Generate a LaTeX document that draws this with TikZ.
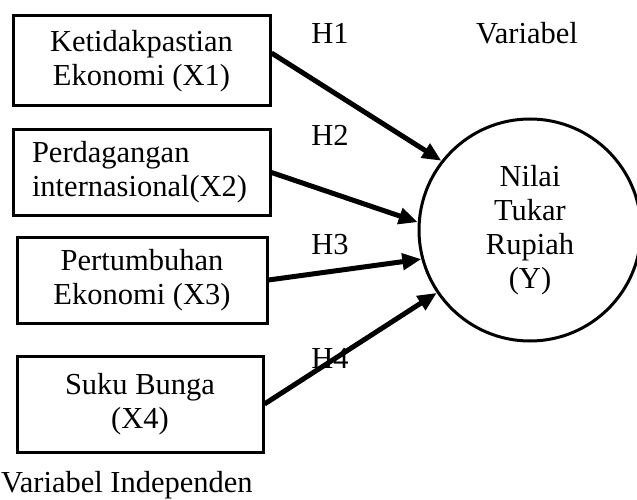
\documentclass[tikz,border=0pt]{standalone}
\usepackage{fontspec}
\setmainfont{Liberation Serif}
\usetikzlibrary{arrows.meta}
\begin{document}
\begin{tikzpicture}[x=1pt,y=-1pt,
    font=\fontsize{30.5}{34}\selectfont,
    kotak/.style={draw,line width=3pt,inner sep=0pt,align=center},
    panah/.style={line width=5pt,-{Triangle[length=19pt,width=16pt]}},
    label/.style={inner sep=0pt}]
  \useasboundingbox (0,0) rectangle (637,500);
  % variabel independen
  \node [kotak,minimum width=257pt,minimum height=90pt] (x1) at (141.5,61) {Ketidakpastian\\Ekonomi (X1)};
  \node [kotak,minimum width=257pt,minimum height=85pt,align=left,text width=219pt,inner xsep=19pt] (x2) at (141.5,172.5) {Perdagangan\\internasional(X2)};
  \node [kotak,minimum width=250pt,minimum height=86pt] (x3) at (142,280) {Pertumbuhan\\Ekonomi (X3)};
  \node [kotak,minimum width=246pt,minimum height=96pt] (x4) at (140,404) {Suku Bunga\\(X4)};
  \node [label,anchor=west] (ind) at (1,485) {Variabel Independen};
  % variabel dependen
  \node [draw,circle,line width=3pt,minimum size=222pt,inner sep=0pt,align=center] (y) at (530,230) {Nilai\\Tukar\\Rupiah\\(Y)};
  \node [label] (dep) at (527,33) {Variabel};
  % hipotesis
  \node [label] (h1) at (330,33) {H1};
  \node [label] (h2) at (330,135) {H2};
  \node [label] (h3) at (330,245) {H3};
  \node [label] (h4) at (330,358) {H4};
  \draw [panah] ([yshift=8pt]x1.east) -- (y.142);
  \draw [panah] (x2.east) -- (y.176);
  \draw [panah] (x3.east) -- (y.195);
  \draw [panah] (x4.east) -- (y.214);
\end{tikzpicture}
\end{document}
